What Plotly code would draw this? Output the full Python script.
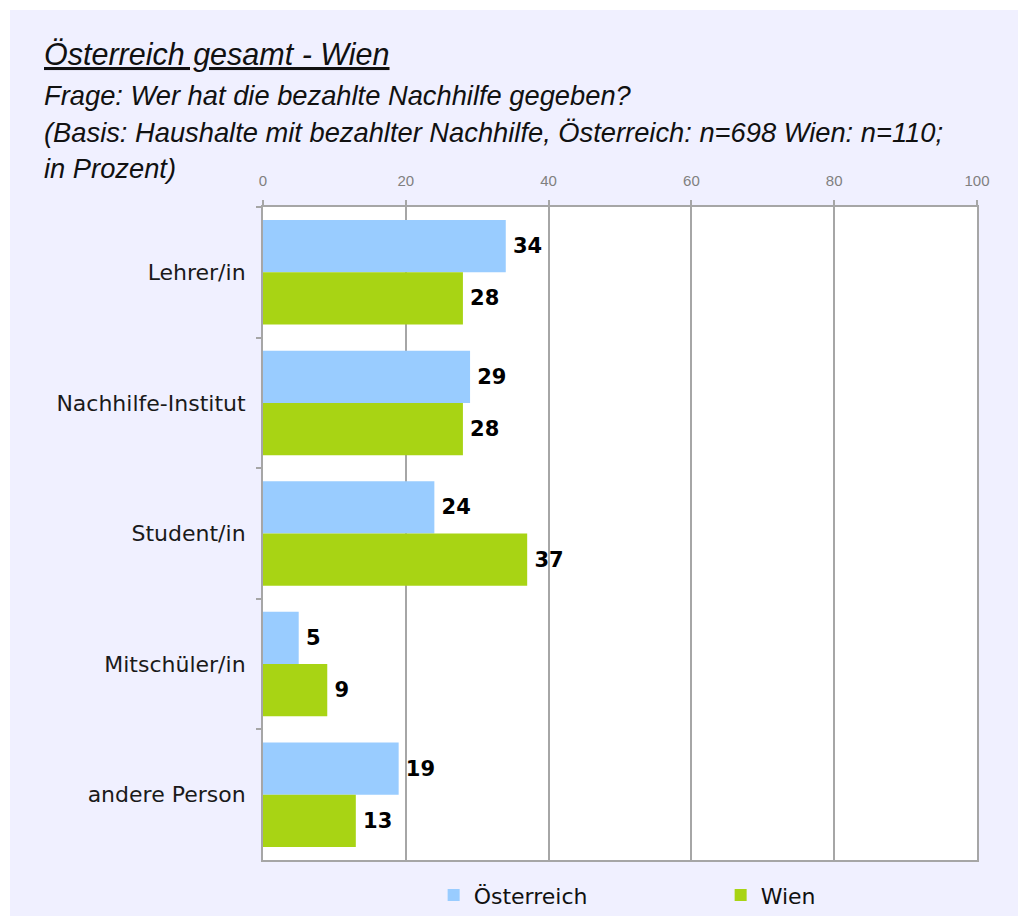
import plotly.graph_objects as go

categories = ["Lehrer/in", "Nachhilfe-Institut", "Student/in", "Mitschüler/in", "andere Person"]
oesterreich = [34, 29, 24, 5, 19]
wien = [28, 28, 37, 9, 13]
x_ticks = [0, 20, 40, 60, 80, 100]

label_font = dict(family="DejaVu Sans", size=21, color="black", weight="bold")

fig = go.Figure()
fig.add_trace(go.Bar(
    y=categories, x=oesterreich, name="Österreich", orientation="h",
    marker=dict(color="#99CCFF", line=dict(width=0)),
    text=oesterreich, texttemplate="\u2009%{x}", textposition="outside", cliponaxis=False,
    textfont=label_font,
))
fig.add_trace(go.Bar(
    y=categories, x=wien, name="Wien", orientation="h",
    marker=dict(color="#A8D414", line=dict(width=0)),
    text=wien, texttemplate="\u2009%{x}", textposition="outside", cliponaxis=False,
    textfont=label_font,
))

PW, PH, L, T = 714, 653, 263, 207

fig.update_layout(
    width=1018, height=916,
    margin=dict(l=L, r=41, t=T, b=56, autoexpand=False),
    paper_bgcolor="#F0F0FF",
    plot_bgcolor="white",
    barmode="group",
    bargap=0.2, bargroupgap=0,
    showlegend=True,
    legend=dict(
        orientation="h", x=0.239, xanchor="left", y=-0.054, yanchor="middle",
        font=dict(family="DejaVu Sans", size=22, color="#111111"),
        entrywidth=242, entrywidthmode="pixels",
        bgcolor="rgba(0,0,0,0)",
    ),
    xaxis=dict(
        side="top", range=[0, 100], tickvals=x_ticks,
        tickfont=dict(family="Liberation Sans", size=15, color="#808080"),
        showgrid=True, gridcolor="#A6A6A6", gridwidth=2,
        showline=True, linecolor="#A6A6A6", linewidth=2, mirror=True,
        ticks="outside", ticklen=5, tickcolor="#A6A6A6", tickwidth=2,
        zeroline=False, fixedrange=True, ticklabelstandoff=8,
    ),
    yaxis=dict(
        autorange="reversed",
        tickfont=dict(family="DejaVu Sans", size=22, color="#1a1a1a"),
        showline=True, linecolor="#A6A6A6", linewidth=2, mirror=True,
        ticks="outside", ticklen=5, tickcolor="#A6A6A6", tickwidth=2,
        tickson="boundaries", showgrid=False, ticklabelstandoff=11,
    ),
    shapes=[
        dict(type="rect", xref="paper", yref="paper", layer="below",
             x0=-L/PW - 0.05, x1=1.2, y0=1 + (T - 10)/PH, y1=1 + (T + 20)/PH,
             fillcolor="white", line=dict(width=0)),
        dict(type="rect", xref="paper", yref="paper", layer="below",
             x0=-L/PW - 0.05, x1=(10 - L)/PW, y0=-0.2, y1=1 + (T + 20)/PH,
             fillcolor="white", line=dict(width=0)),
    ],
)

title_font = dict(family="Liberation Sans", color="#111111")
fig.add_annotation(
    text="<i><u>Österreich gesamt - Wien</u></i>", xref="paper", yref="paper",
    x=(42 - L)/PW, y=1 + (T - 55)/PH, xanchor="left", yanchor="middle",
    showarrow=False, font=dict(size=30.5, **title_font),
)
sub_lines = [
    ("Frage: Wer hat die bezahlte Nachhilfe gegeben?", 95),
    ("(Basis: Haushalte mit bezahlter Nachhilfe, Österreich: n=698 Wien: n=110;", 132),
    ("in Prozent)", 169),
]
for txt, ypix in sub_lines:
    fig.add_annotation(
        text="<i>" + txt + "</i>", xref="paper", yref="paper",
        x=(42 - L)/PW, y=1 + (T - ypix)/PH, xanchor="left", yanchor="middle",
        showarrow=False, font=dict(size=27.3, **title_font),
    )

fig.write_html("out.html")
